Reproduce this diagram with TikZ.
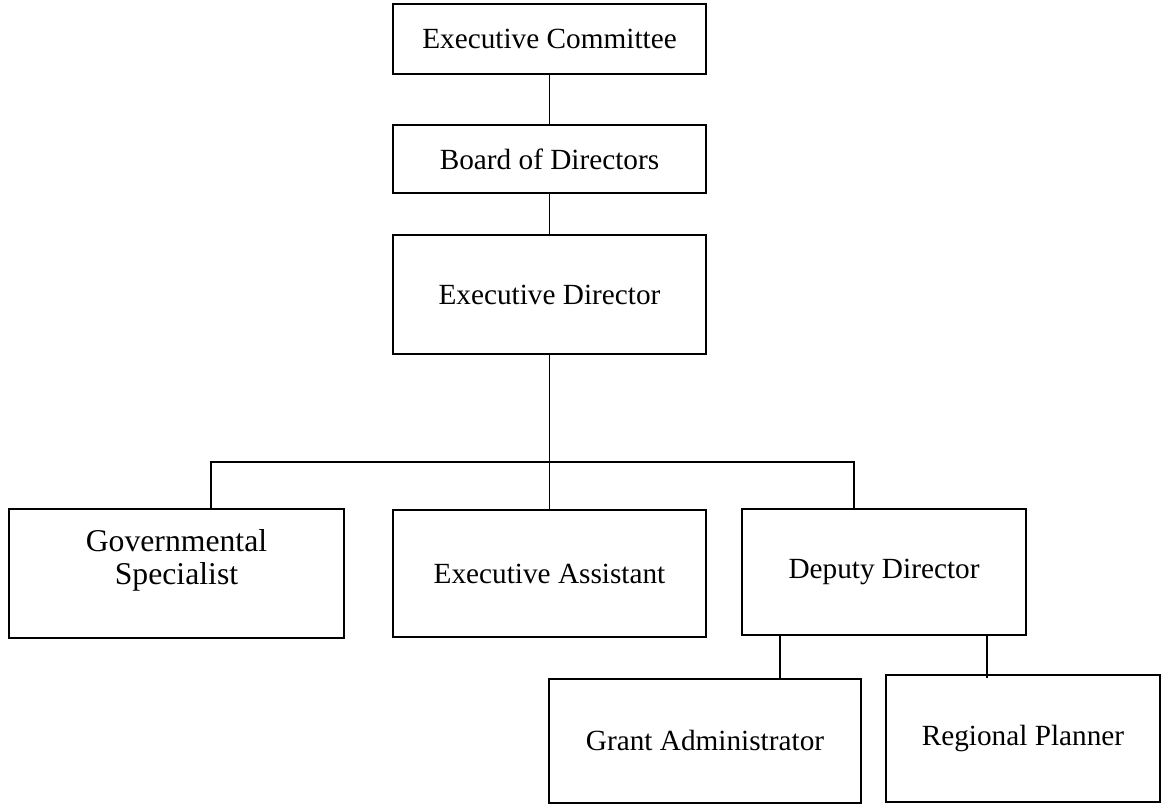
\documentclass[tikz,border=0pt]{standalone}
\usepackage{fontspec}
\setmainfont{Liberation Serif}
\usepackage{tikz}
\usetikzlibrary{positioning}

\begin{document}
\begin{tikzpicture}[node distance=2cm,on grid,
    unit/.style={draw,line width=0.7pt,rectangle,text centered,inner sep=0pt,
      font=\fontsize{12}{14}\selectfont},
    link/.style={line width=0.55pt}]
    %% frame
    \useasboundingbox (0,0) rectangle (16.744,-11.586);
    %% node
    \node (ec) [unit,minimum width=4.51cm,minimum height=1.009cm] at (7.918,-0.562)
      {Executive Committee};
    \node (bod) [below of=ec,node distance=1.729cm,unit,minimum width=4.51cm,minimum height=0.98cm]
      {Board of Directors};
    \node (ed) [below of=bod,node distance=1.953cm,unit,minimum width=4.51cm,minimum height=1.715cm]
      {Executive Director};
    \node (ea) [below of=ed,node distance=4.02cm,unit,minimum width=4.51cm,minimum height=1.83cm]
      {Executive Assistant};
    \node (gs) [left of=ea,node distance=5.375cm,unit,minimum width=4.827cm,minimum height=1.859cm,
      align=center,font=\fontsize{13}{13.5}\selectfont]
      {Governmental\\Specialist\\~};
    \node (dd) [right of=ea,node distance=4.82cm,yshift=0.022cm,unit,minimum width=4.092cm,minimum height=1.816cm]
      {Deputy Director};
    \node (ga) [below of=dd,node distance=2.435cm,xshift=-2.579cm,unit,minimum width=4.496cm,minimum height=1.787cm]
      {Grant Administrator};
    \node (rp) [below of=dd,node distance=2.399cm,xshift=2.003cm,unit,minimum width=3.948cm,minimum height=1.83cm]
      {Regional Planner};
    \path (ed.south) ++(0,-1.542) coordinate (bus);
    %% path
    \draw[link] (ec) -- (bod);
    \draw[link] (bod) -- (ed);
    \draw[link] (ed) -- (ea);
    \draw[link] ([xshift=0.497cm]gs.north) |- (bus) -| ([xshift=-0.432cm]dd.north);
    \draw[link] ([xshift=-1.499cm]dd.south) coordinate (ddl) -- (ddl |- ga.north);
    \draw[link] ([xshift=1.484cm]dd.south) coordinate (ddr) -- ([yshift=-0.06cm]ddr |- rp.north);
\end{tikzpicture}
\end{document}
